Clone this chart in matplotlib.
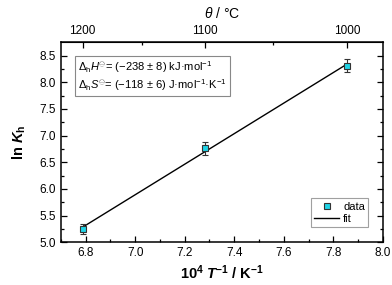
import numpy as np
import matplotlib
matplotlib.use("Agg")
import matplotlib.pyplot as plt
from matplotlib.lines import Line2D

plt.rcParams['font.family'] = ['Liberation Sans', 'DejaVu Sans']
plt.rcParams['mathtext.fontset'] = 'custom'
plt.rcParams['mathtext.rm'] = 'Liberation Sans'
plt.rcParams['mathtext.it'] = 'Liberation Sans:italic'
plt.rcParams['mathtext.bf'] = 'Liberation Sans:bold'
plt.rcParams['mathtext.bfit'] = 'Liberation Sans:bold:italic'

# data
theta_C = [1200, 1100, 1000]
lnK = [5.25, 6.76, 8.31]
lnK_err = [0.10, 0.12, 0.12]
x_ticks = [6.8, 7.0, 7.2, 7.4, 7.6, 7.8, 8.0]
y_ticks = [5.0, 5.5, 6.0, 6.5, 7.0, 7.5, 8.0, 8.5]
top_major = [1200, 1100, 1000]
top_minor = [1150, 1050]

x = 1e4 / (np.array(theta_C) + 273.15)

fig = plt.figure(figsize=(3.92, 2.85), dpi=100)
ax = fig.add_axes([0.155, 0.150, 0.822, 0.702])

mfc = '#1fd3e6'
# fit
p = np.polyfit(x, lnK, 1)
xf = np.array([x.min(), x.max()])
ax.plot(xf, np.polyval(p, xf), color='black', lw=1.0, zorder=2)

ax.errorbar(x, lnK, yerr=lnK_err, fmt='s', ms=5, mfc=mfc, mec='#333333',
            mew=0.8, ecolor='#333333', elinewidth=0.8, capsize=2.5, capthick=0.8,
            zorder=3)

ax.set_xlim(6.7, 8.0)
ax.set_ylim(5.0, 8.75)
ax.set_xticks(x_ticks)
ax.set_xticklabels([f"{v:.1f}" for v in x_ticks])
ax.set_yticks(y_ticks)
ax.set_yticklabels([f"{v:.1f}" for v in y_ticks])
ax.set_xticks(np.arange(6.7, 8.0, 0.2), minor=True)
ax.set_yticks(np.arange(5.25, 8.75, 0.5), minor=True)
ax.tick_params(which='both', direction='in', labelsize=8.5, width=0.9,
               right=True, top=False)
ax.tick_params(which='major', length=4)
ax.tick_params(which='minor', length=2.5)
for s in ax.spines.values():
    s.set_linewidth(1.1)

ax.set_xlabel(r'$\mathbf{10^4}$ $\boldsymbol{T}$$\mathbf{^{-1}}$ $\mathbf{/}$ $\mathbf{K^{-1}}$',
              fontsize=10.5, fontweight='bold', labelpad=3)
ax.set_ylabel(r'ln $\mathbfit{K}_\mathbf{h}$', fontsize=10.5, fontweight='bold', labelpad=8)

def fwd(v):
    return 1e4 / np.asarray(v, dtype=float) - 273.15
def inv(t):
    return 1e4 / (np.asarray(t, dtype=float) + 273.15)

top = ax.secondary_xaxis('top', functions=(fwd, inv))
top.set_xticks(top_major)
top.set_xticks(top_minor, minor=True)
top.tick_params(which='both', direction='in', labelsize=8.5, width=0.9)
top.tick_params(which='major', length=4)
top.tick_params(which='minor', length=2.5)
top.set_xlabel(r'$\theta$ / °C', fontsize=10, labelpad=5)

txt = ('$\\Delta_\\mathrm{h}H^{\\ominus}$= (\u2212238 \u00b1 8) kJ\u00b7mol$^{-1}$\n'
       '$\\Delta_\\mathrm{h}S^{\\ominus}$= (\u2212118 \u00b1 6) J\u00b7mol$^{-1}$\u00b7K$^{-1}$')
ax.text(0.055, 0.915, txt, transform=ax.transAxes, fontsize=8, va='top', ha='left',
        linespacing=1.15,
        bbox=dict(boxstyle='square,pad=0.3', fc='white', ec='#888888', lw=0.8))

handles = [Line2D([], [], ls='none', marker='s', ms=5, mfc=mfc, mec='#333333', mew=0.8),
           Line2D([], [], color='black', lw=1.0)]
leg = ax.legend(handles, ['data', 'fit'], loc='lower right', bbox_to_anchor=(0.955, 0.075),
                fontsize=8, frameon=True, fancybox=False, edgecolor='#888888',
                handlelength=2.2, borderpad=0.3, labelspacing=0.2, handletextpad=0.4,
                borderaxespad=0)
leg.get_frame().set_linewidth(0.8)

fig.savefig('out.png', dpi=100)
